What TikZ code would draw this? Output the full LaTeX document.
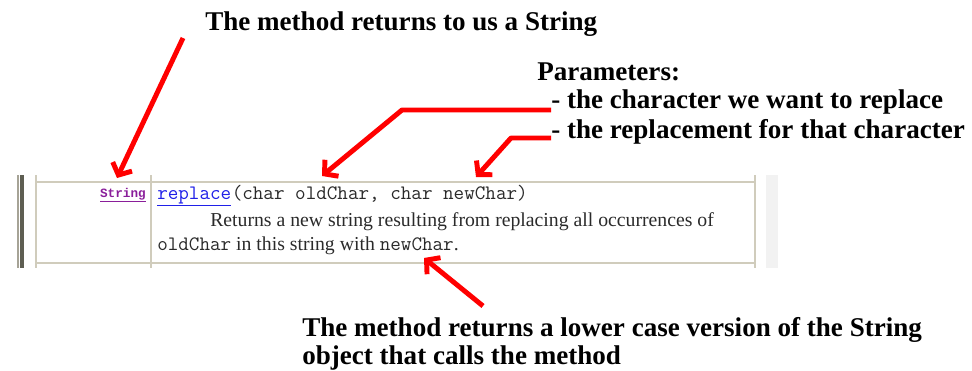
\documentclass[tikz,border=0pt]{standalone}
\usepackage{fontspec}
\setmainfont{Liberation Serif}
\setmonofont{Latin Modern Mono}[Scale=1.04]
\newfontfamily\tagfont{Liberation Mono}
\usetikzlibrary{arrows.meta}

\definecolor{rule}{HTML}{D0CCBC}
\definecolor{bar}{HTML}{5E5E52}
\definecolor{panel}{HTML}{F2F2F2}
\definecolor{link}{HTML}{2020E8}
\definecolor{visited}{HTML}{8A1E9A}
\definecolor{code}{HTML}{2A2A2A}

\tikzset{
  note/.style={inner sep=0pt, font=\fontsize{20.3pt}{24pt}\selectfont\bfseries},
  desc/.style={inner sep=0pt, text=code, font=\fontsize{14.8pt}{17pt}\selectfont},
  callout/.style={draw=red, line width=3.7pt, line join=round,
    -{Straight Barb[length=7pt,width=16pt]}},
  frame/.style={draw=rule, line width=1.6pt}
}

\begin{document}
\begin{tikzpicture}[x=0.75pt,y=-0.75pt]
\useasboundingbox (0,0) rectangle (972,371);
% table of the method summary
\fill[panel] (766,175) rectangle (778,268);
\draw[draw=rule!80!black, line width=0.8pt] (18,175) -- (18,268);
\draw[draw=bar, line width=2.4pt] (22,175) -- (22,268);
\draw[frame] (36,182) -- (755,182);
\draw[frame] (36,263) -- (755,263);
\draw[frame] (36,175) -- (36,268);
\draw[frame] (151,175) -- (151,268);
\draw[frame] (755,175) -- (755,268);

\node[inner sep=0pt, anchor=base east, text=visited,
  font=\fontsize{9.5pt}{11pt}\selectfont\tagfont\bfseries] (type) at (146,197) {\underline{String}};
\node[desc, anchor=base west, text=link] (meth) at (157,199) {\ttfamily\underline{replace}};
\node[desc, anchor=base west] (args) at (meth.base east) {\ttfamily(char oldChar, char newChar)};
\node[desc, anchor=base west] (desc1) at (210,226) {Returns a new string resulting from replacing all occurrences of};
\node[desc, anchor=base west] (desc2) at (157,250) {\ttfamily oldChar\rmfamily{} in this string with \ttfamily newChar\rmfamily.};

% annotations
\node[note, anchor=base west] (ret) at (205,31) {The method returns to us a String};
\node[note, anchor=base west] (par) at (537,80) {Parameters:};
\node[note, anchor=base west] (par1) at (551,108) {- the character we want to replace};
\node[note, anchor=base west] (par2) at (551,138) {- the replacement for that character};
\node[note, anchor=base west] (low1) at (302,336) {The method returns a lower case version of the String};
\node[note, anchor=base west] (low2) at (302,364) {object that calls the method};

% arrows
\coordinate (t1) at (183,38);
\coordinate (h1) at (117,178);
\coordinate (k2) at (402,110);
\coordinate (h2) at (322,176);
\coordinate (k3) at (511,138);
\coordinate (h3) at (476,177);
\coordinate (t4) at (483,306);
\coordinate (h4) at (424,258);
\draw[callout] (t1) -- (h1);
\draw[callout] (par1.west |- k2) -- (k2) -- (h2);
\draw[callout] (par2.west |- k3) -- (k3) -- (h3);
\draw[callout] (t4) -- (h4);
\end{tikzpicture}
\end{document}
